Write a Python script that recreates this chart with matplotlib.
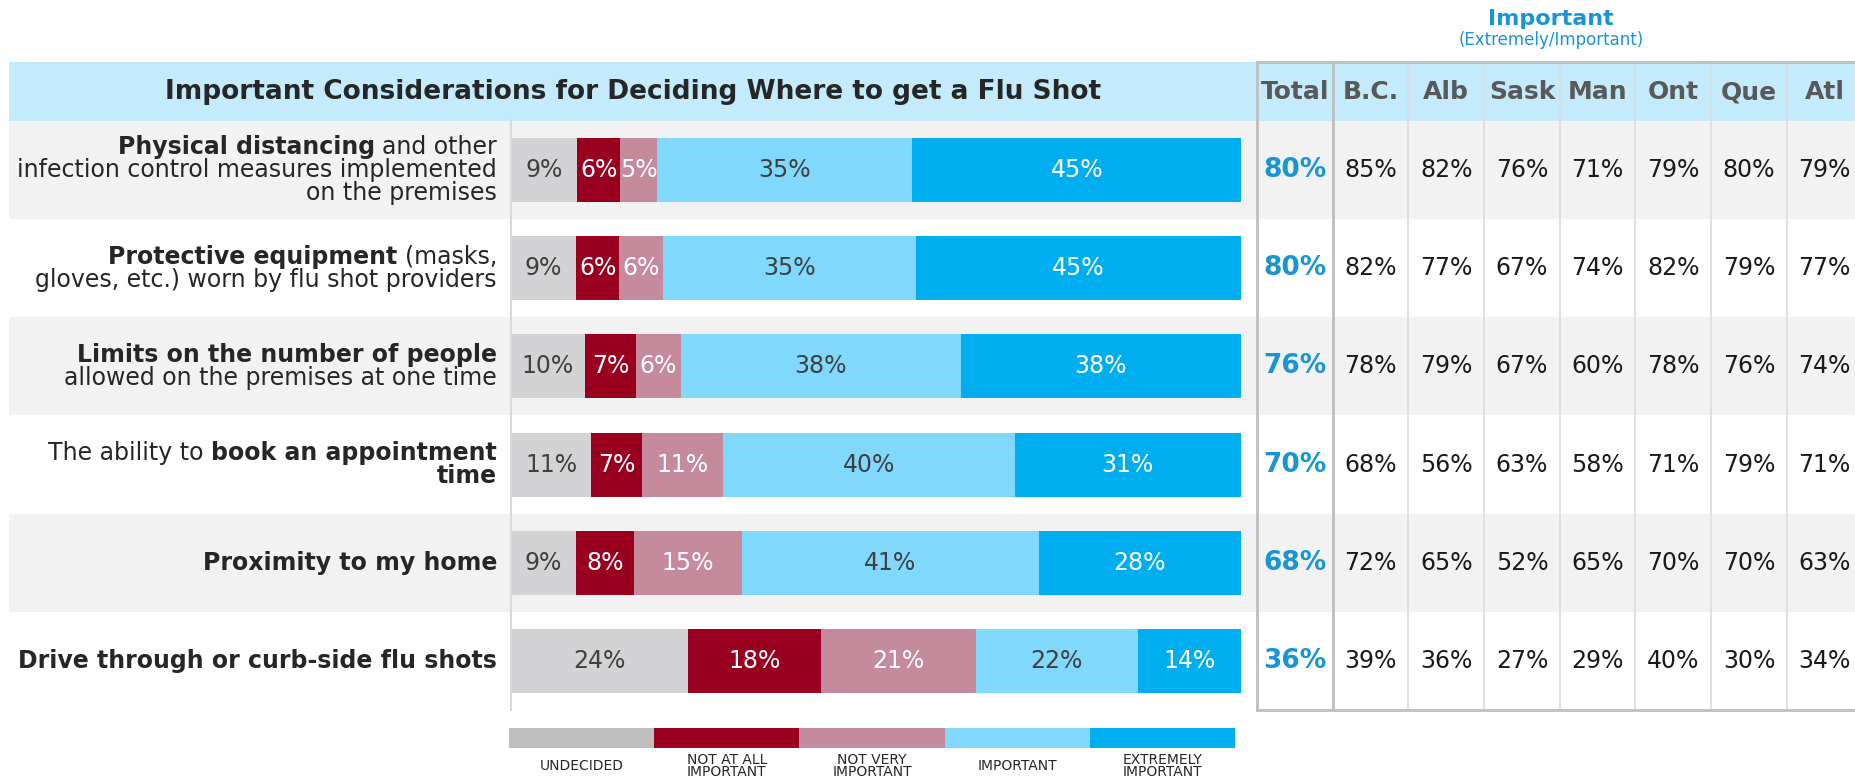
import numpy as np
import matplotlib
matplotlib.use("Agg")
import matplotlib.pyplot as plt
from matplotlib.patches import Rectangle
from matplotlib.transforms import blended_transform_factory

plt.rcParams['font.family'] = ['DejaVu Sans']

# ---- data ----
title = "Important Considerations for Deciding Where to get a Flu Shot"
categories = ["UNDECIDED", "NOT AT ALL\nIMPORTANT", "NOT VERY\nIMPORTANT", "IMPORTANT", "EXTREMELY\nIMPORTANT"]

# each label: list of lines, each line a list of (text, bold)
row_labels = [
    [[("Physical distancing", True), ("and other", False)],
     [("infection control measures implemented", False)],
     [("on the premises", False)]],
    [[("Protective equipment", True), ("(masks,", False)],
     [("gloves, etc.) worn by flu shot providers", False)]],
    [[("Limits on the number of people", True)],
     [("allowed on the premises at one time", False)]],
    [[("The ability to", False), ("book an appointment", True)],
     [("time", True)]],
    [[("Proximity to my home", True)]],
    [[("Drive through or curb-side flu shots", True)]],
]

undecided = [9, 9, 10, 11, 9, 24]
not_at_all = [6, 6, 7, 7, 8, 18]
not_very = [5, 6, 6, 11, 15, 21]
important = [35, 35, 38, 40, 41, 22]
extremely = [45, 45, 38, 31, 28, 14]

regions = ["Total", "B.C.", "Alb", "Sask", "Man", "Ont", "Que", "Atl"]
total = [80, 80, 76, 70, 68, 36]
bc = [85, 82, 78, 68, 72, 39]
alb = [82, 77, 79, 56, 65, 36]
sask = [76, 67, 67, 63, 52, 27]
man = [71, 74, 60, 58, 65, 29]
ont = [79, 82, 78, 71, 70, 40]
que = [80, 79, 76, 79, 70, 30]
atl = [79, 77, 74, 71, 63, 34]

# ---- style ----
bar_colors = ['#D3D3D6', '#99001F', '#C58A9C', '#80D9FD', '#00ADEF']
legend_colors = ['#BFBFBF', '#99001F', '#C58A9C', '#80D9FD', '#00ADEF']
text_colors = ['#404040', 'white', 'white', '#404040', 'white']
band_blue = '#C4EBFC'
band_gray = '#F2F2F2'
blue = '#1A95D4'

W, H = 1856, 778
row_top, row_h = 120.7, 98.25
n = len(total)


def rect(x0, y0, x1, y1):
    return [x0 / W, 1 - y1 / H, (x1 - x0) / W, (y1 - y0) / H]


fig = plt.figure(figsize=(W / 100, H / 100), dpi=100)
bg = fig.add_axes([0, 0, 1, 1])
bg.set_xlim(0, W)
bg.set_ylim(H, 0)
bg.axis('off')

# header band + alternating rows
bg.add_patch(Rectangle((9.5, 61.5), W - 9.5, row_top - 61.5, color=band_blue, lw=0))
for i in range(n):
    if i % 2 == 0:
        bg.add_patch(Rectangle((9.5, row_top + i * row_h), W - 9.5, row_h, color=band_gray, lw=0))

bg.text(633, 92, title, ha='center', va='center', fontsize=19, weight='bold', color='#262626')

# ---- bars ----
ax = fig.add_axes(rect(511, row_top, 1241, row_top + n * row_h))
ax.patch.set_alpha(0)
data = np.array([undecided, not_at_all, not_very, important, extremely], dtype=float)
share = data / data.sum(axis=0) * 100
y = np.arange(n)
left = np.zeros(n)
for k in range(5):
    ax.barh(y, share[k], left=left, height=0.65, color=bar_colors[k], lw=0)
    for i in range(n):
        ax.text(left[i] + share[k][i] / 2, y[i], f"{int(data[k][i])}%", ha='center', va='center',
                fontsize=17, color=text_colors[k])
    left += share[k]
ax.set_xlim(0, 100)
ax.set_ylim(n - 0.5, -0.5)
ax.set_xticks([])
ax.set_yticks([])
for s in ['top', 'right', 'bottom']:
    ax.spines[s].set_visible(False)
ax.spines['left'].set_color('#D9D9D9')
ax.spines['left'].set_linewidth(1.5)

# ---- row labels (mixed bold) ----
renderer = fig.canvas.get_renderer()
lab_fs = 17
space = 0.318 * lab_fs * 100 / 72
line_h = 23
for i, lines in enumerate(row_labels):
    yc = row_top + (i + 0.5) * row_h
    y0 = yc - (len(lines) - 1) * line_h / 2
    for j, segs in enumerate(lines):
        x = 497
        yy = y0 + j * line_h
        for txt, b in reversed(segs):
            t = bg.text(x, yy, txt, ha='right', va='center', fontsize=lab_fs,
                        weight='bold' if b else 'normal', color='#262626')
            x -= t.get_window_extent(renderer).width + space

# ---- table ----
tab_left, col_w = 1257, 75.7
ax_t = fig.add_axes(rect(tab_left, row_top, tab_left + col_w * 8, row_top + n * row_h))
ax_t.set_xlim(0, 8)
ax_t.set_ylim(n - 0.5, -0.5)
ax_t.axis('off')
tr = blended_transform_factory(ax_t.transData, bg.transData)

cols = [total, bc, alb, sask, man, ont, que, atl]
for j, vals in enumerate(cols):
    bg.text(j + 0.5, 92, regions[j], transform=tr, ha='center', va='center',
            fontsize=18, weight='bold', color='#595959')
    for i, v in enumerate(vals):
        if j == 0:
            ax_t.text(j + 0.5, i, f"{v}%", ha='center', va='center', fontsize=19,
                      weight='bold', color=blue)
        else:
            ax_t.text(j + 0.5, i, f"{v}%", ha='center', va='center', fontsize=17,
                      color='#1a1a1a')

for j in range(2, 8):
    bg.plot([j, j], [61.5, 710], transform=tr, color='#DCDCDC', lw=1.2)
bg.plot([1, 1], [61.5, 710], transform=tr, color='#BFBFBF', lw=2)
bg.plot([tab_left, tab_left], [61.5, 710], color='#BFBFBF', lw=2)
bg.plot([tab_left, W], [61.5, 61.5], color='#BFBFBF', lw=2)
bg.plot([tab_left, W], [710, 710], color='#BFBFBF', lw=2)

bg.text(1551, 19, "Important", ha='center', va='center', fontsize=16, weight='bold', color=blue)
bg.text(1551, 40, "(Extremely/Important)", ha='center', va='center', fontsize=12, color=blue)

# ---- legend ----
leg_x0, leg_w = 509, 145.2
for k in range(5):
    bg.add_patch(Rectangle((leg_x0 + k * leg_w, 728), leg_w, 20, color=legend_colors[k], lw=0))
    bg.text(leg_x0 + (k + 0.5) * leg_w, 766, categories[k], ha='center', va='center',
            fontsize=10, color='#262626', linespacing=0.9)

fig.savefig("out.png", dpi=100)
